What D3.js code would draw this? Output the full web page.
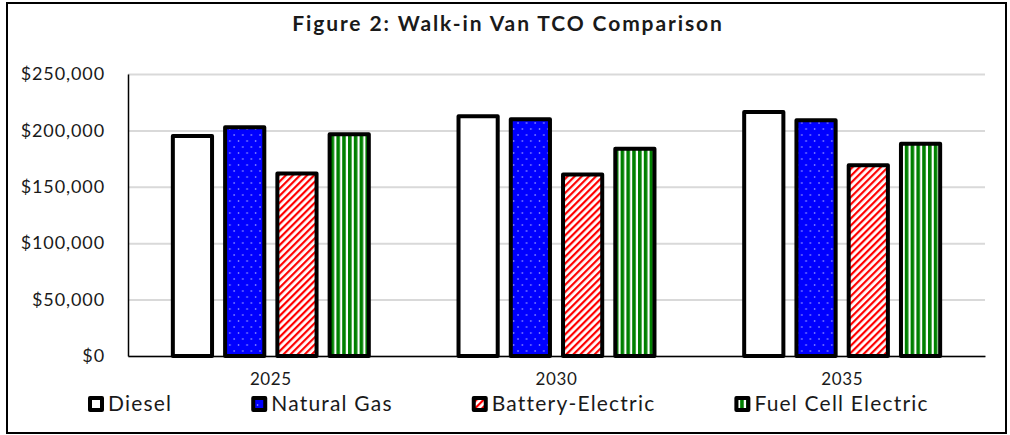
<!DOCTYPE html>
<html>
<head>
<meta charset="utf-8">
<script src="https://cdn.jsdelivr.net/npm/d3@7"></script>
<style>
    body { margin: 0; background: #fff; }
    text { font-family: Lato, "Open Sans", sans-serif; fill: #1a1a1a; }
</style>
</head>
<body>
<div class="chart"></div>
<script>
// Data
const years = ['2025', '2030', '2035'];
const seriesNames = ['Diesel', 'Natural Gas', 'Battery-Electric', 'Fuel Cell Electric'];
const diesel = [195000, 212500, 216300];
const naturalGas = [202700, 209800, 208900];
const batteryElectric = [161800, 161000, 169000];
const fuelCellElectric = [196500, 183800, 188200];
const yTicks = [0, 50000, 100000, 150000, 200000, 250000];

function drawChart() {
    const seriesValues = [diesel, naturalGas, batteryElectric, fuelCellElectric];
    const dataset = [];
    years.forEach((year, i) => {
        seriesNames.forEach((name, j) => {
            dataset.push({ year, name, value: seriesValues[j][i] });
        });
    });

    // Dimensions
    const dimensions = {
        width: 1010,
        height: 435,
        left: 128,
        right: 985,
        top: 74,
        bottom: 356
    };

    const svg = d3.select('.chart')
        .append('svg')
        .attr('width', dimensions.width)
        .attr('height', dimensions.height);

    // Patterns
    const defs = svg.append('defs');

    const dots = defs.append('pattern')
        .attr('id', 'dots')
        .attr('patternUnits', 'userSpaceOnUse')
        .attr('width', 8.6)
        .attr('height', 12);
    dots.append('rect').attr('width', 8.6).attr('height', 12).attr('fill', '#0000ff');
    dots.append('circle').attr('cx', 2).attr('cy', 3).attr('r', 0.8).attr('fill', '#b8b8ff');
    dots.append('circle').attr('cx', 6.3).attr('cy', 9).attr('r', 0.8).attr('fill', '#b8b8ff');

    const stripes = defs.append('pattern')
        .attr('id', 'diag')
        .attr('patternUnits', 'userSpaceOnUse')
        .attr('width', 5)
        .attr('height', 5)
        .attr('patternTransform', 'rotate(45)');
    stripes.append('rect').attr('width', 5).attr('height', 5).attr('fill', '#fff');
    stripes.append('rect').attr('width', 2.2).attr('height', 5).attr('fill', '#ff0000');

    const vert = defs.append('pattern')
        .attr('id', 'vert')
        .attr('patternUnits', 'userSpaceOnUse')
        .attr('width', 5.8)
        .attr('height', 10);
    vert.append('rect').attr('width', 5.8).attr('height', 10).attr('fill', '#fff');
    vert.append('rect').attr('width', 3.6).attr('height', 10).attr('fill', '#008000');

    const fillScale = d3.scaleOrdinal()
        .domain(seriesNames)
        .range(['#ffffff', 'url(#dots)', 'url(#diag)', 'url(#vert)']);

    // Frame
    svg.append('rect')
        .attr('x', 7)
        .attr('y', 3)
        .attr('width', 999)
        .attr('height', 430)
        .attr('fill', 'none')
        .attr('stroke', '#000')
        .attr('stroke-width', 2);

    // Title
    svg.append('text')
        .attr('x', 508)
        .attr('y', 31)
        .attr('text-anchor', 'middle')
        .attr('font-size', 21)
        .attr('font-weight', 'bold')
        .attr('letter-spacing', 1.9)
        .text('Figure 2: Walk-in Van TCO Comparison');

    // Scales
    const xScale = d3.scaleBand()
        .domain(years)
        .range([dimensions.left, dimensions.right])
        .paddingInner(0.3)
        .paddingOuter(0.15);

    const innerScale = d3.scaleBand()
        .domain(seriesNames)
        .range([2, xScale.bandwidth() - 2])
        .paddingInner(0.25);

    const yScale = d3.scaleLinear()
        .domain([0, 250000])
        .range([dimensions.bottom, dimensions.top]);

    // Grid
    const grid = svg.append('g')
        .attr('transform', `translate(${dimensions.left},0)`)
        .call(d3.axisLeft(yScale)
            .tickValues(yTicks)
            .tickSize(-(dimensions.right - dimensions.left))
            .tickFormat(''));
    grid.select('.domain').remove();
    grid.selectAll('line')
        .attr('stroke', '#d9d9d9')
        .attr('stroke-width', 2);

    // Bars
    svg.append('g')
        .selectAll('rect')
        .data(dataset)
        .join('rect')
        .attr('x', d => xScale(d.year) + innerScale(d.name))
        .attr('y', d => yScale(d.value))
        .attr('width', innerScale.bandwidth())
        .attr('height', d => yScale(0) - yScale(d.value))
        .attr('fill', d => fillScale(d.name))
        .attr('stroke', '#000')
        .attr('stroke-width', 4)
        .attr('stroke-linejoin', 'round');

    // Axis
    const yAxisGroup = svg.append('g')
        .attr('transform', `translate(${dimensions.left},0)`)
        .call(d3.axisLeft(yScale)
            .tickValues(yTicks)
            .tickSize(0)
            .tickPadding(23)
            .tickFormat(d3.format('$,')));
    yAxisGroup.select('.domain')
        .attr('stroke', '#000')
        .attr('stroke-width', 1.5);
    yAxisGroup.selectAll('text')
        .attr('font-size', 18)
        .attr('font-family', 'Lato, sans-serif')
        .attr('letter-spacing', 0.9)
        .attr('fill', '#1a1a1a');

    const xAxisGroup = svg.append('g')
        .attr('transform', `translate(0,${dimensions.bottom})`)
        .call(d3.axisBottom(xScale)
            .tickSize(0)
            .tickPadding(17));
    xAxisGroup.select('.domain')
        .attr('stroke', '#000')
        .attr('stroke-width', 1.5);
    xAxisGroup.selectAll('text')
        .attr('font-size', 17)
        .attr('font-family', 'Lato, sans-serif')
        .attr('letter-spacing', 0.6)
        .attr('fill', '#1a1a1a');

    // Legend
    const legendGroup = svg.append('g')
        .attr('transform', 'translate(88, 396)');
    let cursor = 0;
    seriesNames.forEach(name => {
        const item = legendGroup.append('g')
            .attr('transform', `translate(${cursor},0)`);
        item.append('rect')
            .attr('x', 2)
            .attr('y', 2)
            .attr('width', 12)
            .attr('height', 12)
            .attr('fill', fillScale(name))
            .attr('stroke', '#000')
            .attr('stroke-width', 4)
            .attr('stroke-linejoin', 'round');
        const label = item.append('text')
            .attr('x', 20)
            .attr('y', 15)
            .attr('font-size', 21)
            .attr('letter-spacing', 1.2)
            .text(name);
        cursor += 20 + label.node().getComputedTextLength() + 79;
    });
}

drawChart();
</script>
</body>
</html>
